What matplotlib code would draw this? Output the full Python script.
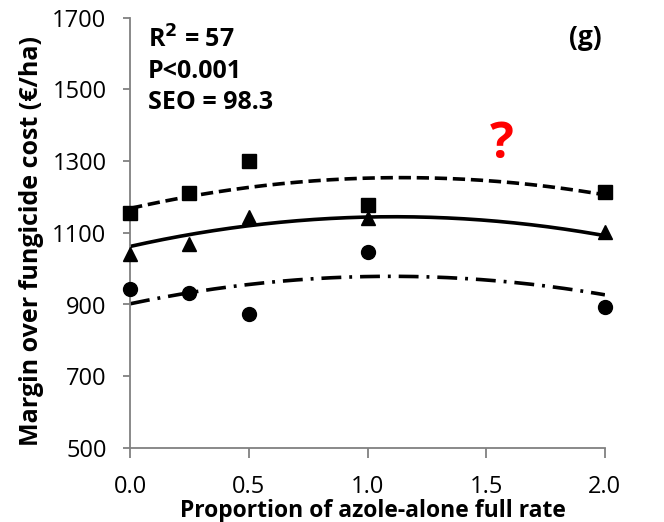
import numpy as np
import matplotlib
matplotlib.use('Agg')
import matplotlib.pyplot as plt

plt.rcParams['font.family'] = ['Open Sans', 'DejaVu Sans']

# Datos
x_pts = [0.0, 0.25, 0.5, 1.0, 2.0]
squares = [1156, 1212, 1299, 1178, 1215]
triangles = [1040, 1068, 1144, 1141, 1101]
circles = [943, 932, 874, 1046, 894]

# Coeficientes de las curvas cuadráticas ajustadas (a*x^2 + b*x + c)
fit_squares = [-65.6, 150.2, 1168]
fit_triangles = [-67.0, 149.0, 1062]
fit_circles = [-63.5, 139.5, 902]

y_ticks = [500, 700, 900, 1100, 1300, 1500, 1700]
x_ticks = [0.0, 0.5, 1.0, 1.5, 2.0]

fig = plt.figure(figsize=(6.64, 5.22), dpi=100)
ax = fig.add_axes([0.196, 0.142, 0.715, 0.824])

xs = np.linspace(0, 2, 200)
ax.plot(xs, np.polyval(fit_squares, xs), color='black', lw=2.6, ls=(0, (3.4, 1.6)))
ax.plot(xs, np.polyval(fit_triangles, xs), color='black', lw=2.6, ls='-')
ax.plot(xs, np.polyval(fit_circles, xs), color='black', lw=2.6,
        ls=(0, (5.5, 2.2, 0.8, 2.2)))

ax.plot(x_pts, squares, 's', color='black', ms=9.5, clip_on=False, zorder=5)
ax.plot(x_pts, triangles, '^', color='black', ms=10.5, clip_on=False, zorder=5)
ax.plot(x_pts, circles, 'o', color='black', ms=10, clip_on=False, zorder=5)

ax.set_xlim(0, 2)
ax.set_ylim(500, 1700)
ax.set_xticks(x_ticks)
ax.set_xticklabels([f'{v:.1f}' for v in x_ticks])
ax.set_yticks(y_ticks)

for s in ['top', 'right']:
    ax.spines[s].set_visible(False)
for s in ['left', 'bottom']:
    ax.spines[s].set_color('#808080')
    ax.spines[s].set_linewidth(1.3)
ax.tick_params(axis='both', colors='#808080', labelcolor='black', labelsize=17,
               width=1.3, direction='out')
ax.tick_params(axis='y', length=5, pad=12)
ax.tick_params(axis='x', length=7, pad=12.5)

# Títulos de ejes colocados a mano
fig.text(0.562, 0.0096, 'Proportion of azole-alone full rate', fontsize=16.5,
         fontweight='bold', ha='center', va='baseline')
fig.text(0.047, 0.538, 'Margin over fungicide cost (€/ha)', fontsize=18,
         fontweight='bold', ha='center', va='center', rotation=90)

ax.text(0.038, 0.949, 'R$^\\mathbf{2}$ = 57', transform=ax.transAxes, fontsize=18,
        fontweight='bold', va='center')
ax.text(0.038, 0.874, 'P<0.001', transform=ax.transAxes, fontsize=18,
        fontweight='bold', va='center')
ax.text(0.038, 0.802, 'SEO = 98.3', transform=ax.transAxes, fontsize=18,
        fontweight='bold', va='center')
ax.text(0.958, 0.953, '(g)', transform=ax.transAxes, fontsize=19,
        fontweight='bold', ha='center', va='center')
ax.text(1.565, 1345, '?', color='#ff0000', fontsize=36, fontweight='bold',
        ha='center', va='center')

fig.savefig('out.png', dpi=100)
